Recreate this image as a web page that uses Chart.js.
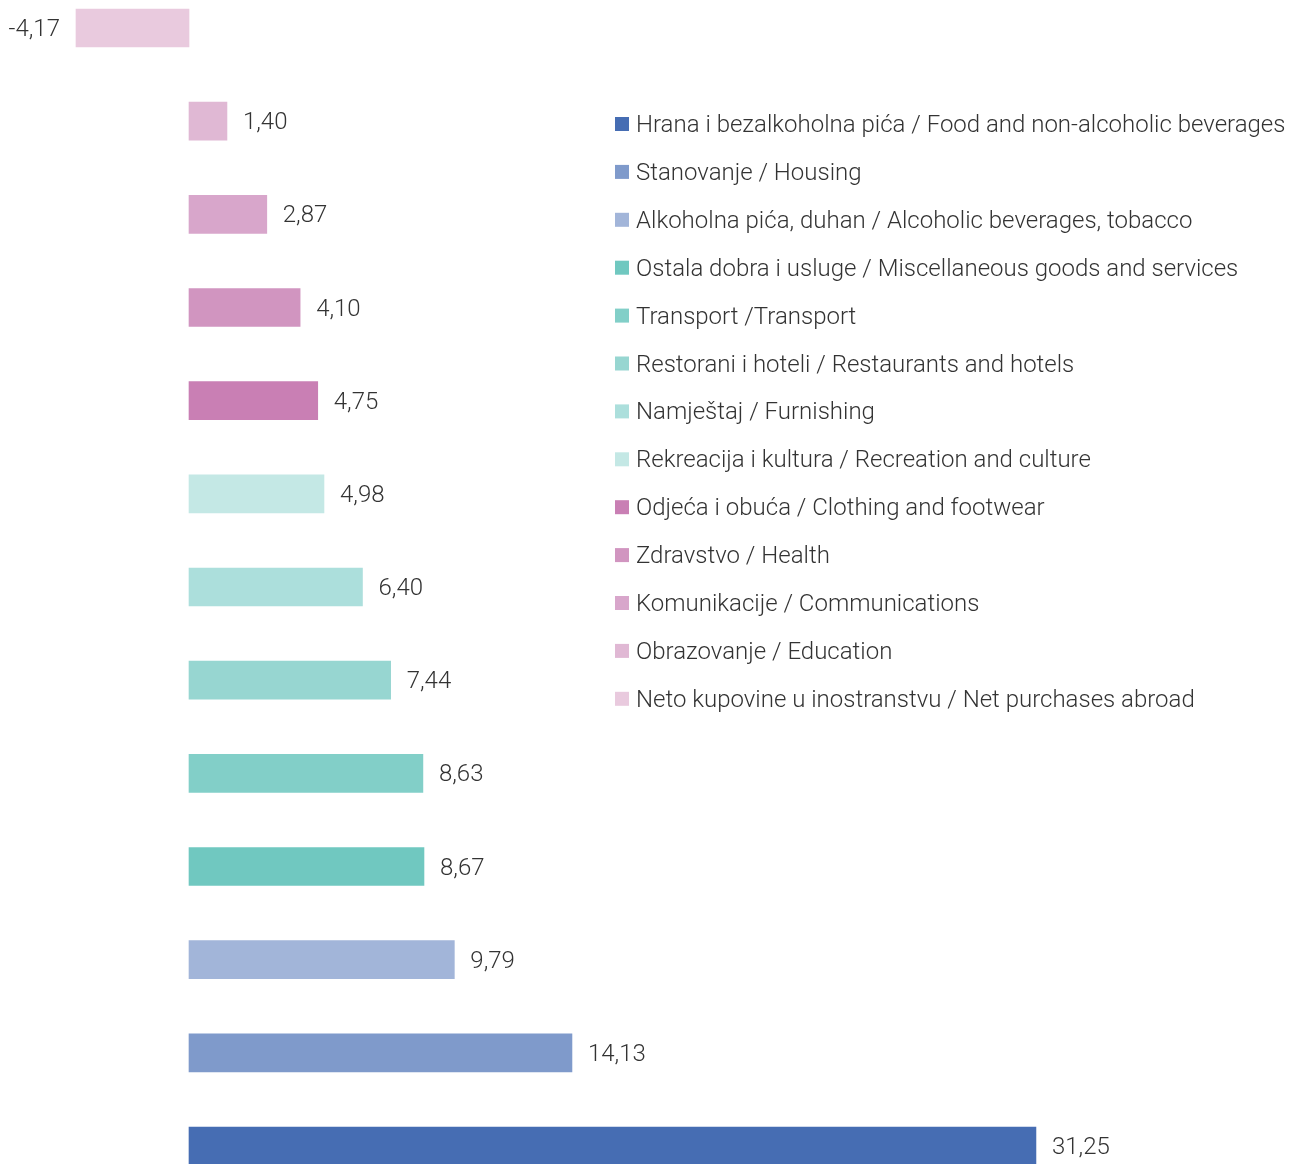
<!DOCTYPE html>
<html>
<head>
<meta charset="utf-8">
<script src="https://cdn.jsdelivr.net/npm/chart.js@4.4.0/dist/chart.umd.min.js"></script>
<style>
  html, body { margin: 0; padding: 0; background: #fff; }
  #wrap { width: 1301px; height: 1164px; position: relative; }
</style>
</head>
<body>
<div id="wrap"><canvas id="chart"></canvas></div>
<script>
// categories in legend order (first one is drawn at the bottom)
const categories = [
  "Hrana i bezalkoholna pića / Food and non-alcoholic beverages",
  "Stanovanje / Housing",
  "Alkoholna pića, duhan / Alcoholic beverages, tobacco",
  "Ostala dobra i usluge / Miscellaneous goods and services",
  "Transport /Transport",
  "Restorani i hoteli / Restaurants and hotels",
  "Namještaj / Furnishing",
  "Rekreacija i kultura / Recreation and culture",
  "Odjeća i obuća / Clothing and footwear",
  "Zdravstvo / Health",
  "Komunikacije / Communications",
  "Obrazovanje / Education",
  "Neto kupovine u inostranstvu / Net purchases abroad"
];
const values = [31.25, 14.13, 9.79, 8.67, 8.63, 7.44, 6.40, 4.98, 4.75, 4.10, 2.87, 1.40, -4.17];
const colors = [
  "#466db3", "#7f9acb", "#a2b5d9", "#70c8c0", "#82cfc8", "#97d6d1", "#acdfdc",
  "#c4e8e5", "#c97fb4", "#d195c0", "#d8a6cb", "#e0b8d4", "#e9cade"
];

const FONT = "300 24px Roboto";
const TEXT = "#333333";

// value labels next to each bar
const valueLabels = {
  id: "valueLabels",
  afterDatasetsDraw(chart) {
    const ctx = chart.ctx;
    const meta = chart.getDatasetMeta(0);
    ctx.save();
    ctx.font = FONT;
    ctx.fillStyle = TEXT;
    ctx.textBaseline = "middle";
    meta.data.forEach((bar, i) => {
      const v = values[i];
      const txt = v.toFixed(2).replace(".", ",");
      if (v >= 0) {
        ctx.textAlign = "left";
        ctx.fillText(txt, bar.x + 16, bar.y + 2);
      } else {
        ctx.textAlign = "right";
        ctx.fillText(txt, bar.x - 16, bar.y + 2);
      }
    });
    ctx.restore();
  }
};

// legend drawn over the right part of the plot
const sideLegend = {
  id: "sideLegend",
  afterDraw(chart) {
    const ctx = chart.ctx;
    ctx.save();
    ctx.font = FONT;
    ctx.textBaseline = "middle";
    ctx.textAlign = "left";
    categories.forEach((c, i) => {
      const y = 124 + i * 47.9;
      ctx.fillStyle = colors[i];
      ctx.fillRect(615, y - 7, 14, 14);
      ctx.fillStyle = TEXT;
      ctx.fillText(c, 636, y + 2);
    });
    ctx.restore();
  }
};

const ctx = document.getElementById("chart").getContext("2d");
new Chart(ctx, {
  type: "bar",
  data: {
    labels: categories,
    datasets: [{
      data: values,
      backgroundColor: colors,
      borderWidth: 0,
      barThickness: 38,
      clip: false
    }]
  },
  options: {
    indexAxis: "y",
    responsive: true,
    maintainAspectRatio: false,
    animation: false,
    layout: { padding: { top: 28, bottom: 18, left: 0, right: 0 } },
    scales: {
      x: { display: false, min: -6.974, max: 41.03 },
      y: { display: false, reverse: true, offset: false }
    },
    plugins: {
      legend: { display: false },
      tooltip: { enabled: false }
    }
  },
  plugins: [valueLabels, sideLegend]
});
</script>
</body>
</html>
